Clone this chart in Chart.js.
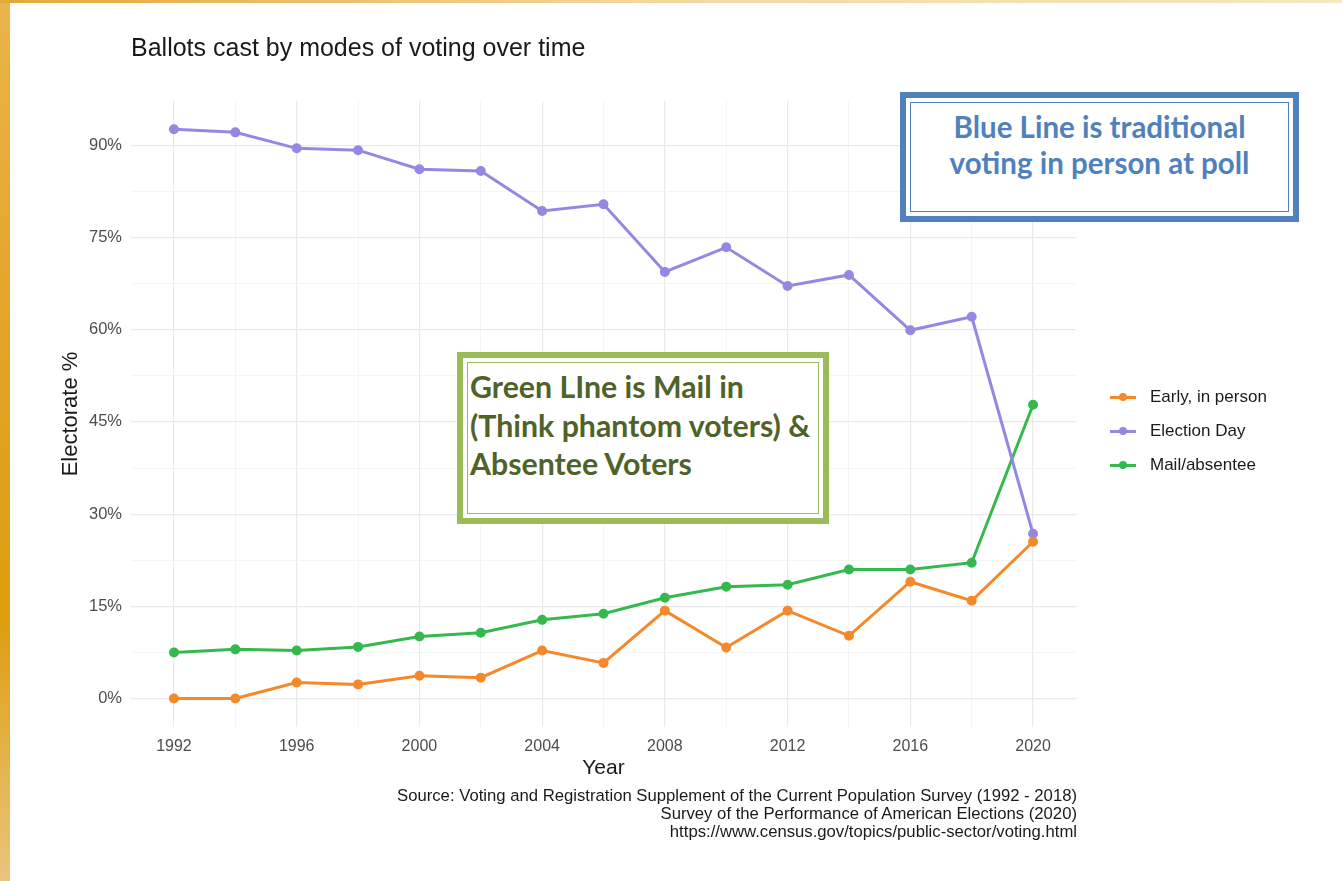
<!DOCTYPE html>
<html>
<head>
<meta charset="utf-8">
<script src="https://cdn.jsdelivr.net/npm/chart.js@4/dist/chart.umd.min.js"></script>
<style>
  html, body { margin: 0; padding: 0; background: #fff; }
  #wrap { position: relative; width: 1342px; height: 881px; overflow: hidden; background: #fff; font-family: "Liberation Sans", Arial, sans-serif; }
  #leftbar { position: absolute; left: 0; top: 0; width: 10px; height: 881px;
    background: linear-gradient(to bottom, #e9b54a 0%, #e3a52a 35%, #dc9e0e 70%, #ebc47c 100%); }
  #topbar { position: absolute; left: 0; top: 0; width: 1342px; height: 3px;
    background: linear-gradient(to right, #e3a83a 0%, #f3d9a0 50%, #f7e6c0 100%); }
  #chart { position: absolute; left: 0; top: 0; }
  #title { position: absolute; left: 131px; top: 33px; font-size: 25px; color: #1a1a1a; }
  #caption { position: absolute; right: 265px; top: 787px; font-size: 16.7px; line-height: 18px; color: #1a1a1a; text-align: right; }
  #legend { position: absolute; left: 1110px; top: 380px; font-size: 17px; color: #1a1a1a; }
  .li { height: 34px; display: flex; align-items: center; }
  .sw { position: relative; width: 26px; height: 22px; margin-right: 14px; }
  .sw .ln { position: absolute; left: 0; top: 10px; width: 26px; height: 3px; }
  .sw .dt { position: absolute; left: 9px; top: 7px; width: 8px; height: 8px; border-radius: 50%; }
  .box { position: absolute; box-sizing: border-box; background: #fff; font-family: Lato, "Open Sans", sans-serif; font-weight: bold; }
  .box .inner { position: absolute; left: 4px; top: 4px; right: 4px; bottom: 4px; border: 1.5px solid; }
  #bluebox { left: 900px; top: 92px; width: 399px; height: 130px; border: 6px solid #4f81bd; color: #4f81bd; }
  #bluebox .inner { border-color: #4f81bd; text-align: center; font-size: 29.5px; line-height: 36px; padding-top: 6px; white-space: nowrap; }
  #greenbox { left: 457px; top: 352px; width: 372px; height: 172px; border: 6px solid #9bbb59; color: #4f6228; }
  #greenbox .inner { border-color: #9bbb59; font-size: 30.3px; line-height: 38.5px; padding-top: 4px; padding-left: 2px; white-space: nowrap; }
</style>
</head>
<body>
<div id="wrap">
  <canvas id="chart" width="1342" height="881"></canvas>
  <div id="leftbar"></div>
  <div id="topbar"></div>
  <div id="title">Ballots cast by modes of voting over time</div>
  <div id="legend"></div>
  <div id="caption">Source: Voting and Registration Supplement of the Current Population Survey (1992 - 2018)<br>Survey of the Performance of American Elections (2020)<br>https://www.census.gov/topics/public-sector/voting.html</div>
  <div id="bluebox" class="box"><div class="inner">Blue Line is traditional<br>voting in person at poll</div></div>
  <div id="greenbox" class="box"><div class="inner">Green LIne is Mail in<br>(Think phantom voters) &amp;<br>Absentee Voters</div></div>
</div>
<script>
// data (percent of electorate)
const years = [1992, 1994, 1996, 1998, 2000, 2002, 2004, 2006, 2008, 2010, 2012, 2014, 2016, 2018, 2020];
const earlyInPerson = [0, 0, 2.6, 2.3, 3.7, 3.4, 7.8, 5.8, 14.3, 8.3, 14.3, 10.2, 19.0, 15.9, 25.5];
const electionDay = [92.6, 92.1, 89.5, 89.2, 86.1, 85.8, 79.3, 80.4, 69.4, 73.4, 67.1, 68.9, 59.9, 62.1, 26.8];
const mailAbsentee = [7.5, 8.0, 7.8, 8.4, 10.1, 10.7, 12.8, 13.8, 16.4, 18.2, 18.5, 21.0, 21.0, 22.1, 47.8];
const seriesNames = ['Early, in person', 'Election Day', 'Mail/absentee'];
const seriesColors = ['#f5892a', '#9488e2', '#35b84c'];
const xTickYears = [1992, 1996, 2000, 2004, 2008, 2012, 2016, 2020];
const yTicks = [0, 15, 30, 45, 60, 75, 90];

const seriesValues = [earlyInPerson, electionDay, mailAbsentee];

const datasets = seriesValues.map((vals, i) => ({
    label: seriesNames[i],
    data: years.map((y, j) => ({ x: y, y: vals[j] })),
    borderColor: seriesColors[i],
    backgroundColor: seriesColors[i],
    borderWidth: 3,
    pointRadius: 3.5,
    pointHoverRadius: 3.5,
    tension: 0
}));

// legend in the ggplot style
const legendEl = document.getElementById('legend');
seriesNames.forEach((name, i) => {
    const row = document.createElement('div');
    row.className = 'li';
    row.innerHTML = `<div class="sw"><div class="ln" style="background:${seriesColors[i]}"></div><div class="dt" style="background:${seriesColors[i]}"></div></div><span>${name}</span>`;
    legendEl.appendChild(row);
});

const gridMajor = '#e9e9e9';
const gridMinor = '#f3f3f3';
const fontFamily = '"Liberation Sans", Arial, sans-serif';

new Chart(document.getElementById('chart'), {
    type: 'line',
    data: { datasets },
    options: {
        responsive: false,
        animation: false,
        layout: { padding: { left: 58, right: 266, top: 101, bottom: 100 } },
        plugins: { legend: { display: false }, tooltip: { enabled: false } },
        scales: {
            x: {
                type: 'linear',
                min: 1990.6,
                max: 2021.4,
                afterBuildTicks: (scale) => {
                    scale.ticks = [];
                    for (let y = 1992; y <= 2020; y += 2) scale.ticks.push({ value: y });
                },
                afterFit: (scale) => { scale.height = 54; },
                border: { display: false },
                grid: {
                    color: (ctx) => xTickYears.includes(ctx.tick && ctx.tick.value) ? gridMajor : gridMinor,
                    lineWidth: (ctx) => xTickYears.includes(ctx.tick && ctx.tick.value) ? 1.2 : 0.8,
                    drawTicks: false
                },
                ticks: {
                    autoSkip: false,
                    maxRotation: 0,
                    padding: 10,
                    color: '#4d4d4d',
                    font: { family: fontFamily, size: 16 },
                    callback: (v) => xTickYears.includes(v) ? String(v) : ''
                },
                title: {
                    display: true,
                    text: 'Year',
                    color: '#1a1a1a',
                    padding: { top: 0, bottom: 0 },
                    font: { family: fontFamily, size: 21 }
                }
            },
            y: {
                min: -4.63,
                max: 97.2,
                afterBuildTicks: (scale) => {
                    scale.ticks = [];
                    for (let v = 0; v <= 90; v += 7.5) scale.ticks.push({ value: v });
                },
                afterFit: (scale) => { scale.width = 73; },
                border: { display: false },
                grid: {
                    color: (ctx) => yTicks.includes(ctx.tick && ctx.tick.value) ? gridMajor : gridMinor,
                    lineWidth: (ctx) => yTicks.includes(ctx.tick && ctx.tick.value) ? 1.2 : 0.8,
                    drawTicks: false
                },
                ticks: {
                    autoSkip: false,
                    padding: 9,
                    color: '#4d4d4d',
                    font: { family: fontFamily, size: 16.5 },
                    callback: (v) => yTicks.includes(v) ? v + '%' : ''
                },
                title: {
                    display: true,
                    text: 'Electorate %',
                    color: '#1a1a1a',
                    padding: { top: 0, bottom: 0 },
                    font: { family: fontFamily, size: 22 }
                }
            }
        }
    }
});
</script>
</body>
</html>
